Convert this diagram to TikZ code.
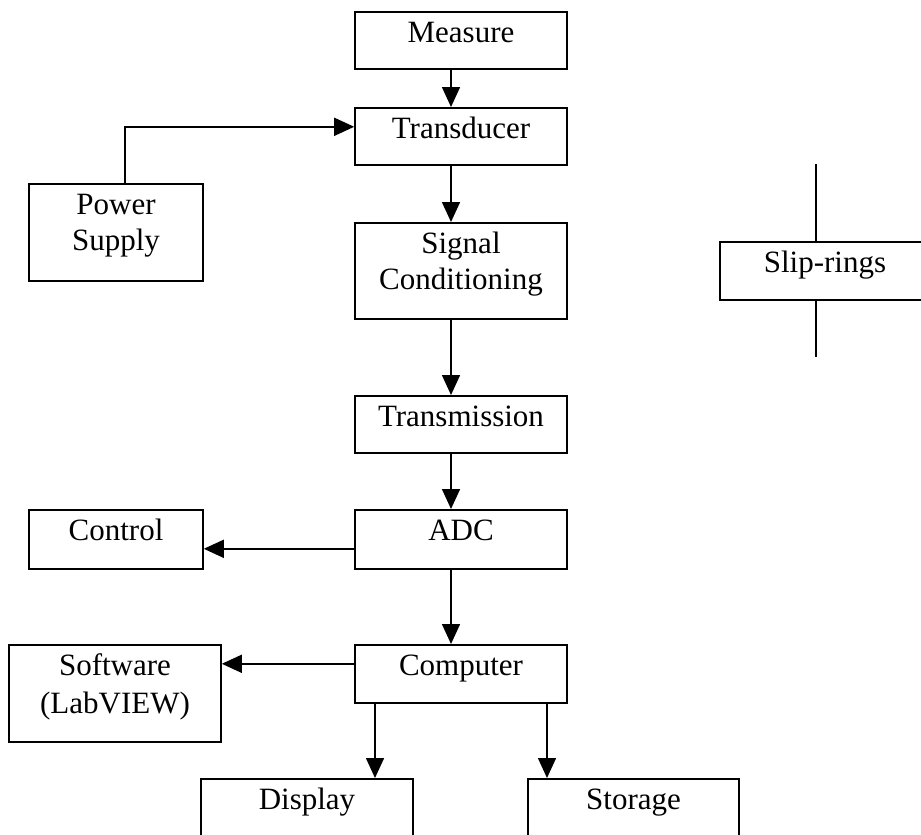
\documentclass[tikz,border=0pt]{standalone}
\usepackage{fontspec}
\setmainfont{Liberation Serif}
\usepackage{tikz}
\usetikzlibrary{arrows.meta}

\tikzset{
    block/.style={draw, line width=1.6pt, inner sep=0pt, anchor=north, align=center,
        minimum width=212pt, text height=31pt, text depth=26pt,
        font=\fontsize{31pt}{36pt}\selectfont},
    twoline/.style={text height=67pt, text depth=30pt},
    flow/.style={line width=1.6pt, -{Triangle[length=20pt,width=18pt]}},
}

\begin{document}
\begin{tikzpicture}[x=1pt, y=-1pt]
            % \draw[help lines] (0,0) grid[step=50] (921,835);
            \useasboundingbox (0,0) rectangle (921,835);
            \clip (0,0) rectangle (921,835);
            \node[block] (measure) at (461,11) {Measure};
            \node[block] (transducer) at (461,107) {Transducer};
            \node[block, twoline, minimum width=174pt] (power) at (116,183) {Power\\Supply};
            \node[block, twoline, text depth=29pt] (signal) at (461,222) {Signal\\Conditioning};
            \node[block, minimum width=210pt, text depth=27pt] (slip) at (825,241) {Slip-rings};
            \node[block] (transmission) at (461,395) {Transmission};
            \node[block, text depth=28pt] (adc) at (461,509) {ADC};
            \node[block, minimum width=174pt, text depth=28pt] (control) at (116,509) {Control};
            \node[block, text depth=27pt] (computer) at (461,644) {Computer};
            \node[block, twoline, font=\fontsize{31pt}{38pt}\selectfont, text height=69pt, text depth=28pt] (software) at (115,644) {Software\\(LabVIEW)};
            \node[block, text depth=45pt] (display) at (307,778) {Display};
            \node[block, minimum width=211pt, text depth=45pt] (storage) at (633.5,778) {Storage};

            \coordinate (sliptop) at (816,164);
            \coordinate (slipbot) at (816,357);

            \draw[flow] ([xshift=-10pt]measure.south) -- ([xshift=-10pt]transducer.north);
            \draw[flow] ([xshift=9pt]power.north) |- ([yshift=9.5pt]transducer.west);
            \draw[flow] ([xshift=-10pt]transducer.south) -- ([xshift=-10pt]signal.north);
            \draw[flow] ([xshift=-10pt]signal.south) -- ([xshift=-10pt]transmission.north);
            \draw[flow] ([xshift=-10pt]transmission.south) -- ([xshift=-10pt]adc.north);
            \draw[flow] ([yshift=-9.5pt]adc.west) -- ([yshift=-9.5pt]control.east);
            \draw[flow] ([xshift=-10pt]adc.south) -- ([xshift=-10pt]computer.north);
            \draw[flow] ([yshift=10pt]computer.west) -- ([yshift=10pt]computer.west -| software.east);
            \draw[flow] ([xshift=-86pt]computer.south) -- ([xshift=-86pt]computer.south |- display.north);
            \draw[flow] ([xshift=86pt]computer.south) -- ([xshift=86pt]computer.south |- storage.north);
            \draw[line width=1.6pt] (sliptop) -- (sliptop |- slip.north);
            \draw[line width=1.6pt] (slipbot) -- (slipbot |- slip.south);
        \end{tikzpicture}
\end{document}
